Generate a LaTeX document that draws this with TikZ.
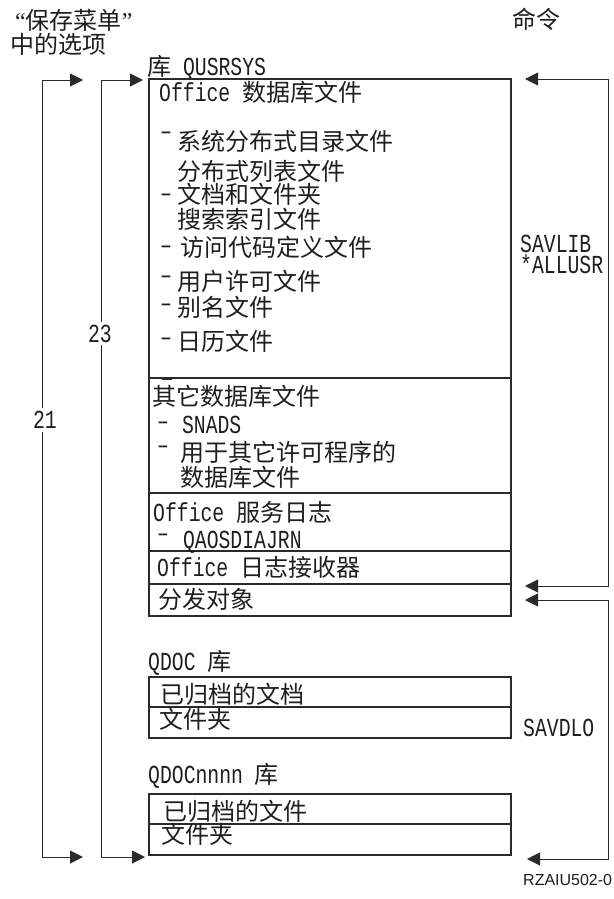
\documentclass[tikz,border=0pt]{standalone}
\usepackage{fontspec}
\usetikzlibrary{arrows.meta}
\newfontfamily\cjkf{Noto Sans CJK SC}
\newfontfamily\sansf{Liberation Sans}
\newfontfamily\serf{Liberation Serif}
\newfontfamily\monof[FakeStretch=0.76]{Liberation Mono}
\newcommand\mo[1]{{\monof\fontsize{26}{28}\selectfont #1}}
\newcommand\qt[1]{{\serf\fontsize{24}{26}\selectfont #1}}
\newcommand\dsh[1]{\raisebox{#1pt}{\mo{–}}}
\definecolor{linec}{HTML}{2A2A2A}
\definecolor{txtc}{HTML}{1E1E1E}
\begin{document}
\begin{tikzpicture}[x=1pt,y=-1pt,
  txt/.style={font=\cjkf\fontsize{24}{26}\selectfont, text=txtc, inner sep=0pt, anchor=base west},
  rowbox/.style={draw=linec, line width=1.1pt, minimum width=362pt, inner sep=0pt, outer sep=0pt, anchor=north west},
  bracket/.style={draw=linec, line width=1pt, {Triangle[length=13pt,width=13pt]}-{Triangle[length=13pt,width=13pt]}},
  numlbl/.style={font=\monof\fontsize{26}{28}\selectfont, text=txtc, fill=white, inner xsep=1pt, inner ysep=3pt}
]
\useasboundingbox (0,0) rectangle (613,899);

% headings
\node[txt] (hd1) at (15,30) {\qt{“}保存菜单\qt{”}};
\node[txt] (hd2) at (10,53.5) {中的选项};
\node[txt] (cmd) at (512,28.5) {命令};
\node[txt] (lib1) at (147,75.5) {库\mo{\ QUSRSYS}};

% main library box
\node[rowbox, minimum height=299pt] (r1) at (149,79) {};
\node[rowbox, minimum height=115pt] (r2) at (149,378) {};
\node[rowbox, minimum height=58pt] (r3) at (149,493) {};
\node[rowbox, minimum height=33pt] (r4) at (149,551) {};
\node[rowbox, minimum height=32pt] (r5) at (149,584) {};

% row 1
\node[txt] (t1) at (159,101.5) {\mo{Office\ }数据库文件};
\node[txt] (t2) at (160,150.5) {\dsh{11}\hspace{5pt}系统分布式目录文件};
\node[txt] (t3) at (177,180.5) {分布式列表文件};
\node[txt] (t4) at (160,203.5) {\dsh{2}\hspace{5pt}文档和文件夹};
\node[txt] (t5) at (177,228) {搜索索引文件};
\node[txt] (t6) at (160,256.5) {\dsh{3}\hspace{8pt}访问代码定义文件};
\node[txt] (t7) at (160,290.5) {\dsh{7}\hspace{5pt}用户许可文件};
\node[txt] (t8) at (160,316.5) {\dsh{5}\hspace{5pt}别名文件};
\node[txt] (t9) at (160,350.5) {\dsh{5}\hspace{5pt}日历文件};
\draw[linec, line width=1.2pt] (162,379.8) -- (172,379.8);

% row 2
\node[txt] (t10) at (152,405.5) {其它数据库文件};
\node[txt] (t11) at (157,433) {\dsh{3.5}\hspace{13pt}\mo{SNADS}};
\node[txt] (t12) at (157,461.5) {\dsh{8}\hspace{11pt}用于其它许可程序的};
\node[txt] (t13) at (180,486.5) {数据库文件};

% row 3-5
\node[txt] (t14) at (153,521) {\mo{Office\ }服务日志};
\node[txt] (t15) at (157,548) {\dsh{6.5}\hspace{14pt}\mo{QAOSDIAJRN}};
\node[txt] (t16) at (157,576) {\mo{Office\ }日志接收器};
\node[txt] (t17) at (158,608.5) {分发对象};

% QDOC library
\node[txt] (lib2) at (148,670.5) {\mo{QDOC\ }库};
\node[rowbox, minimum height=30pt] (q1) at (149,677) {};
\node[rowbox, minimum height=31pt] (q2) at (149,707) {};
\node[txt] (q1t) at (160,703.5) {已归档的文档};
\node[txt] (q2t) at (159,728.5) {文件夹};

% QDOCnnnn library
\node[txt] (lib3) at (148,783) {\mo{QDOCnnnn\ }库};
\node[rowbox, minimum height=30pt] (n1) at (149,794) {};
\node[rowbox, minimum height=31pt] (n2) at (149,824) {};
\node[txt] (n1t) at (163,820) {已归档的文件};
\node[txt] (n2t) at (161,843.5) {文件夹};

% left brackets
\coordinate (Lt) at (83,80);
\coordinate (Lb) at (83,857);
\draw[bracket] (Lt) -- (42,80) -- (42,857) -- (Lb);
\coordinate (It) at (143,80);
\coordinate (Ib) at (145,857);
\draw[bracket] (It) -- (101,80) -- (101,857) -- (Ib);
\node[numlbl] (n21) at (45,420) {21};
\node[numlbl] (n23) at (100,333.5) {23};

% right brackets
\coordinate (Rt1) at (525,79);
\coordinate (Rb1) at (525,586);
\draw[bracket] (Rt1) -- (608,79) -- (608,586) -- (Rb1);
\coordinate (Rt2) at (525,600);
\coordinate (Rb2) at (527,859);
\draw[bracket] (Rt2) -- (608,600) -- (608,859) -- (Rb2);

% commands
\node[txt] (sav1) at (520,252) {\mo{SAVLIB}};
\node[txt] (sav2) at (520,273) {\mo{*ALLUSR}};
\node[txt] (sav3) at (523,736) {\mo{SAVDLO}};
\node[txt, font=\sansf\fontsize{16}{18}\selectfont] (rz) at (523,885) {RZAIU502-0};
\end{tikzpicture}
\end{document}
